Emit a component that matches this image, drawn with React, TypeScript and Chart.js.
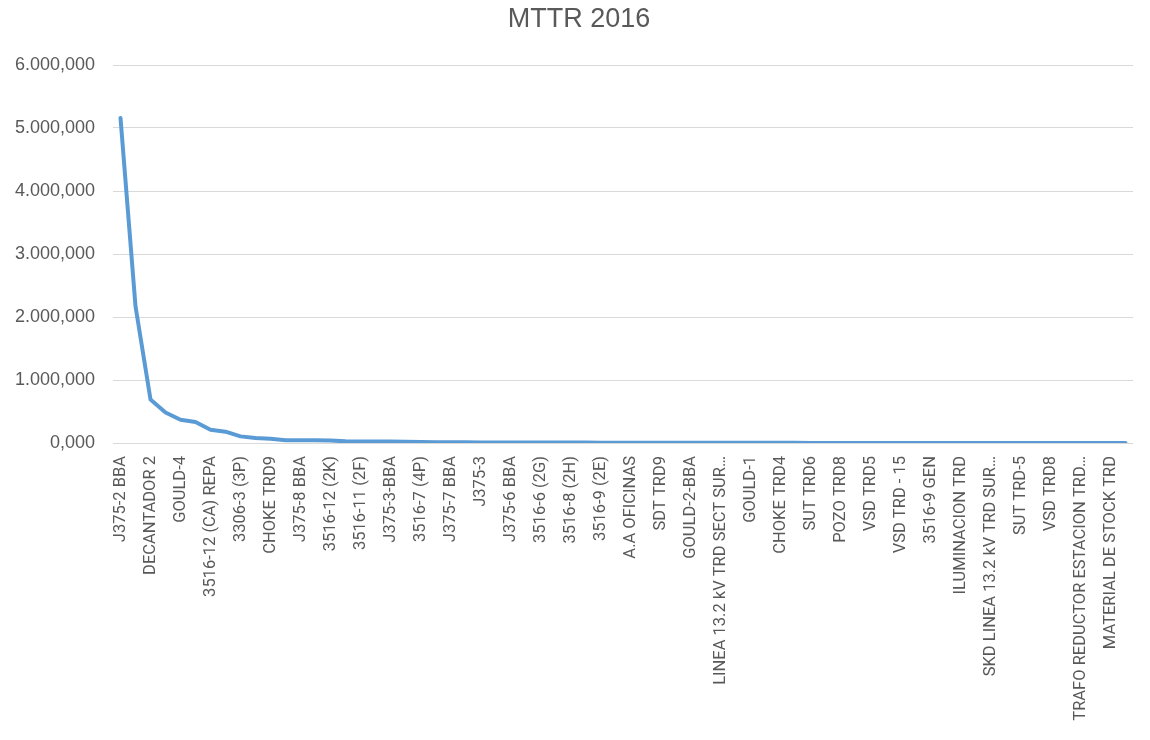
import React, { useEffect, useRef } from "react";
import { Chart, registerables } from "chart.js";

Chart.register(...registerables);

// Equipment names printed on the category axis (every second category carries a label)
const labeledEquipment: string[] = [
  "J375-2 BBA",
  "DECANTADOR 2",
  "GOULD-4",
  "3516-12 (CA) REPA",
  "3306-3 (3P)",
  "CHOKE TRD9",
  "J375-8 BBA",
  "3516-12 (2K)",
  "3516-11 (2F)",
  "J375-3-BBA",
  "3516-7 (4P)",
  "J375-7 BBA",
  "J375-3",
  "J375-6 BBA",
  "3516-6 (2G)",
  "3516-8 (2H)",
  "3516-9 (2E)",
  "A.A OFICINAS",
  "SDT TRD9",
  "GOULD-2-BBA",
  "LINEA 13.2 kV TRD SECT SUR…",
  "GOULD-1",
  "CHOKE TRD4",
  "SUT TRD6",
  "POZO TRD8",
  "VSD TRD5",
  "VSD TRD - 15",
  "3516-9 GEN",
  "ILUMINACION TRD",
  "SKD LINEA 13.2 kV TRD SUR…",
  "SUT TRD-5",
  "VSD TRD8",
  "TRAFO REDUCTOR ESTACION TRD…",
  "MATERIAL DE STOCK TRD",
];

// MTTR per equipment, sorted descending
const mttrValues: number[] = [
  5160, 2170, 690, 485, 370, 333, 210, 180, 105, 80,
  68, 45, 44, 43, 40, 26, 25, 24, 22, 20,
  14, 12, 11, 10, 9.5, 9, 8.5, 8, 7.5, 7,
  6.5, 6, 5.6, 5.2, 4.8, 4.5, 4.2, 3.9, 3.6, 3.3,
  3.0, 2.8, 2.6, 2.4, 2.2, 2.0, 1.9, 1.8, 1.7, 1.6,
  1.5, 1.4, 1.3, 1.2, 1.1, 1.0, 0.9, 0.8, 0.7, 0.6,
  0.55, 0.5, 0.45, 0.4, 0.35, 0.3, 0.25, 0.2,
];

const yTickValues: number[] = [0, 1000, 2000, 3000, 4000, 5000, 6000];

const chartTitle = "MTTR 2016";

const categories: string[] = mttrValues.map((_, i) =>
  i % 2 === 0 ? labeledEquipment[i / 2] ?? "" : ""
);

// 5000 -> "5.000,000"
function formatNumber(v: number): string {
  const fixed = v.toFixed(3);
  const [intPart, dec] = fixed.split(".");
  const withDots = intPart.replace(/\B(?=(\d{3})+(?!\d))/g, ".");
  return `${withDots},${dec}`;
}

const FONT = "'Liberation Sans', Arial, sans-serif";
const LABEL_FONT = "Roboto, 'Liberation Sans', sans-serif";
const TEXT = "#595959";

// Title drawn slightly right of the canvas centre, above the plot
const titlePlugin = {
  id: "mttrTitle",
  afterDraw(chart: any) {
    const ctx = chart.ctx;
    ctx.save();
    ctx.fillStyle = TEXT;
    ctx.font = `normal 27px ${FONT}`;
    ctx.textAlign = "center";
    ctx.textBaseline = "middle";
    ctx.fillText(chartTitle, 579, 20);
    ctx.restore();
  },
};

export default function App() {
  const canvasRef = useRef<HTMLCanvasElement | null>(null);

  useEffect(() => {
    document.body.style.margin = "0";
    const canvas = canvasRef.current;
    if (!canvas) return;

    const chart = new Chart(canvas, {
      type: "line",
      data: {
        labels: categories,
        datasets: [
          {
            label: chartTitle,
            data: mttrValues,
            borderColor: "#5B9BD5",
            backgroundColor: "#5B9BD5",
            borderWidth: 4,
            pointRadius: 0,
            tension: 0,
            fill: false,
            borderCapStyle: "round",
            borderJoinStyle: "round",
          },
        ],
      },
      plugins: [titlePlugin],
      options: {
        responsive: false,
        animation: false,
        layout: { padding: { left: 0, right: 17, top: 65, bottom: 0 } },
        plugins: {
          legend: { display: false },
          tooltip: { enabled: false },
          title: { display: false },
        },
        scales: {
          x: {
            type: "category",
            offset: true,
            grid: { display: false, drawTicks: false },
            border: { display: false },
            ticks: {
              autoSkip: false,
              minRotation: 90,
              maxRotation: 90,
              padding: 13,
              color: TEXT,
              font: { family: LABEL_FONT, size: 16.5 },
            },
            afterFit: (scale: any) => {
              scale.height = 297;
              scale.paddingLeft = 0;
              scale.paddingRight = 0;
            },
          },
          y: {
            min: 0,
            max: 6000,
            afterBuildTicks: (scale: any) => {
              scale.ticks = yTickValues.map((v) => ({ value: v }));
            },
            grid: { color: "#D9D9D9", lineWidth: 1, drawTicks: false },
            border: { display: false },
            ticks: {
              padding: 18,
              color: TEXT,
              font: { family: FONT, size: 18 },
              callback: (v: any) => formatNumber(Number(v)),
            },
            afterFit: (scale: any) => {
              scale.width = 113;
            },
          },
        },
      },
    });

    return () => chart.destroy();
  }, []);

  return (
    <div style={{ width: 1150, height: 740, background: "#fff" }}>
      <canvas ref={canvasRef} width={1150} height={740} />
    </div>
  );
}
